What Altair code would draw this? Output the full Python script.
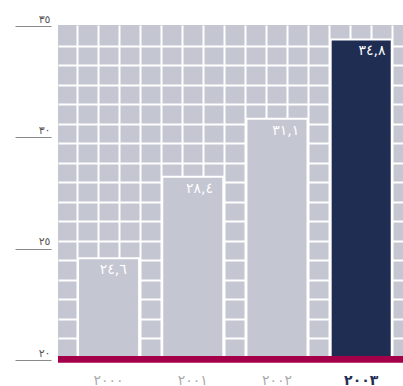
import altair as alt
import pandas as pd

# ---- data ----
years = ['٢٠٠٠', '٢٠٠١', '٢٠٠٢', '٢٠٠٣']
values = [24.6, 28.4, 31.1, 34.8]
value_labels = ['٢٤,٦', '٢٨,٤', '٣١,١', '٣٤,٨']
y_ticks = [20, 25, 30, 35]
y_tick_labels = ['٢٠', '٢٥', '٣٠', '٣٥']

# ---- style ----
GRAY = '#c4c6d2'
NAVY = '#1f2d53'
CRIMSON = '#a4004a'
FONT = 'DejaVu Sans'
W, H = 345, 335

df = pd.DataFrame({'year': years, 'value': values, 'label': value_labels})
ticks_df = pd.DataFrame({'v': y_ticks})
one = alt.Data(values=[{}])

bar_y = alt.Scale(domain=[19.855, 35.473], nice=False, zero=False)
band = alt.Scale(domain=years, paddingInner=0.275, paddingOuter=0.186, align=0.64)

label_expr = " : ".join(
    f"datum.value == {v} ? '{t}'" for v, t in zip(y_ticks, y_tick_labels)
) + " : ''"

# decorative background grid (independent scales)
grid_x = alt.Chart(one).mark_point(opacity=0).encode(
    x=alt.X(datum=0, type='quantitative',
            scale=alt.Scale(domain=[-0.888, 15.5], nice=False, zero=False),
            axis=alt.Axis(orient='top', values=list(range(16)), grid=True,
                          gridColor='white', gridWidth=2, gridOpacity=1,
                          labels=False, ticks=False, domain=False, title=None))
)
grid_y = alt.Chart(one).mark_point(opacity=0).encode(
    y=alt.Y(datum=0, type='quantitative',
            scale=alt.Scale(domain=[-1.062, 16.118], nice=False, zero=False, reverse=True),
            axis=alt.Axis(orient='right', values=list(range(17)), grid=True,
                          gridColor='white', gridWidth=2, gridOpacity=1,
                          labels=False, ticks=False, domain=False, title=None))
)

y_axis = alt.Chart(ticks_df).mark_point(opacity=0).encode(
    y=alt.Y('v:Q', scale=alt.Scale(domain=[20, 35.045], nice=False, zero=False),
            axis=alt.Axis(orient='left', values=y_ticks, labelExpr=label_expr,
                          offset=7, tickSize=36, tickColor='#8a8a8a', tickWidth=1.2,
                          domain=False, grid=False, title=None,
                          labelAlign='right', labelBaseline='bottom',
                          labelPadding=-35, labelOffset=-2,
                          labelFont=FONT, labelFontSize=11, labelColor='#555555'))
)

bars = alt.Chart(df).mark_bar(stroke='white', strokeWidth=2).encode(
    x=alt.X('year:N', scale=band,
            axis=alt.Axis(title=None, ticks=False, domain=False, labelAngle=0,
                          labelPadding=13, labelFont=FONT, labelFontSize=14,
                          labelColor=alt.condition(f"datum.value == '{years[-1]}'",
                                                   alt.value(NAVY), alt.value('#ababab')),
                          labelFontWeight=alt.condition(f"datum.value == '{years[-1]}'",
                                                        alt.value('bold'), alt.value('normal')))),
    y=alt.Y('value:Q', scale=bar_y, axis=None),
    y2=alt.datum(20),
    color=alt.condition(alt.datum.year == years[-1], alt.value(NAVY), alt.value(GRAY)),
)

texts = alt.Chart(df).mark_text(dy=12, baseline='middle', color='white',
                                fontSize=14, font=FONT).encode(
    x=alt.X('year:N', scale=band, axis=None),
    y=alt.Y('value:Q', scale=bar_y, axis=None),
    text='label:N',
)

baseline = alt.Chart(one).mark_rect(color=CRIMSON).encode(
    x=alt.value(0), x2=alt.value(W),
    y=alt.Y(datum=20.04, type='quantitative', scale=bar_y, axis=None),
    y2=alt.datum(19.73),
)

chart = alt.layer(grid_x, grid_y, bars, texts, baseline, y_axis).resolve_scale(
    x='independent', y='independent'
).resolve_axis(
    x='independent', y='independent'
).properties(
    width=W, height=H,
    padding={'left': 58, 'top': 25, 'right': 0, 'bottom': 26},
    autosize=alt.AutoSizeParams(type='none'),
    background='white',
).configure_view(fill=GRAY, stroke=None)

chart.save("out.html", embed_options={"renderer": "svg", "actions": False})
